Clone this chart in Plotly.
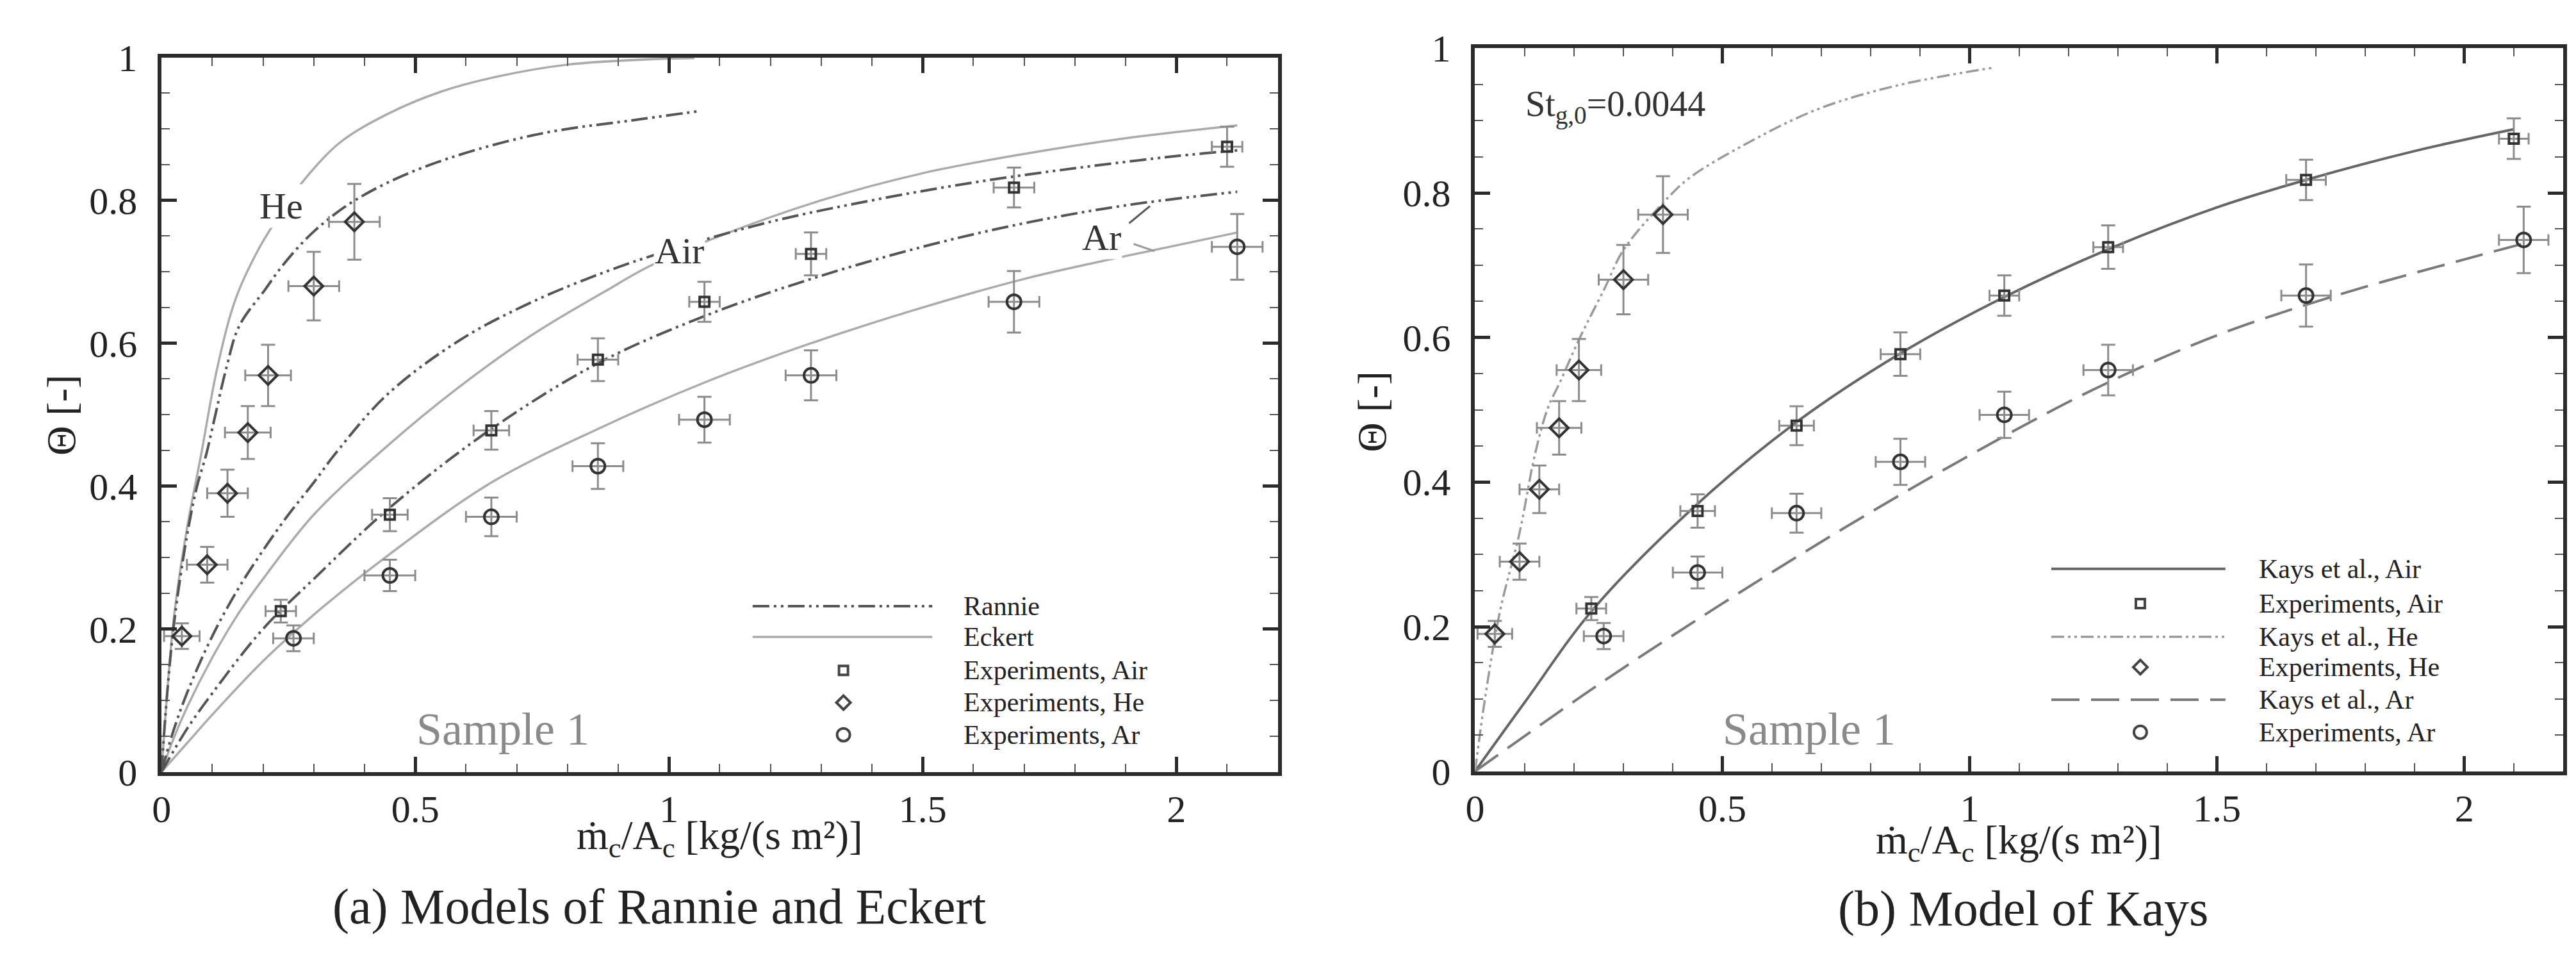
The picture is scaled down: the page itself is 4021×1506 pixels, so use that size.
import plotly.graph_objects as go

# ---------------- data ----------------
# experiments (same in both panels)
he_x = [0.04, 0.09, 0.13, 0.17, 0.21, 0.30, 0.38]
he_y = [0.19, 0.29, 0.39, 0.475, 0.555, 0.68, 0.77]
he_ex = [0.035, 0.04, 0.04, 0.045, 0.045, 0.05, 0.05]
he_ey = [0.018, 0.025, 0.033, 0.037, 0.043, 0.048, 0.053]

air_x = [0.235, 0.45, 0.65, 0.86, 1.07, 1.28, 1.68, 2.10]
air_y = [0.225, 0.36, 0.478, 0.577, 0.658, 0.725, 0.818, 0.875]
air_ex = [0.03, 0.035, 0.035, 0.04, 0.03, 0.03, 0.04, 0.03]
air_ey = [0.016, 0.023, 0.027, 0.03, 0.028, 0.03, 0.028, 0.028]

ar_x = [0.26, 0.45, 0.65, 0.86, 1.07, 1.28, 1.68, 2.12]
ar_y = [0.187, 0.275, 0.357, 0.428, 0.493, 0.555, 0.658, 0.735]
ar_ex = [0.04, 0.05, 0.05, 0.05, 0.05, 0.05, 0.05, 0.05]
ar_ey = [0.018, 0.022, 0.027, 0.032, 0.032, 0.035, 0.043, 0.046]

# panel (a): Rannie and Eckert models
rannie_he_x = [0, 0.01, 0.025, 0.05, 0.07, 0.088, 0.103, 0.128, 0.153, 0.204, 0.24, 0.298, 0.381, 0.515, 0.731, 0.948, 1.06]
rannie_he_y = [0, 0.10, 0.21, 0.33, 0.40, 0.444, 0.49, 0.566, 0.624, 0.675, 0.71, 0.755, 0.80, 0.846, 0.891, 0.914, 0.925]
eckert_he_x = [0, 0.01, 0.025, 0.05, 0.078, 0.11, 0.146, 0.19, 0.233, 0.277, 0.35, 0.443, 0.55, 0.66, 0.8, 0.98, 1.05]
eckert_he_y = [0, 0.10, 0.22, 0.34, 0.444, 0.566, 0.662, 0.73, 0.78, 0.825, 0.88, 0.92, 0.952, 0.973, 0.99, 0.998, 0.999]
rannie_air_x = [0, 0.02, 0.05, 0.1, 0.15, 0.2, 0.25, 0.3, 0.341, 0.443, 0.587, 0.731, 0.875, 1.0, 1.2, 1.4, 1.6, 1.8, 2.0, 2.12]
rannie_air_y = [0, 0.05, 0.11, 0.19, 0.255, 0.31, 0.36, 0.405, 0.444, 0.527, 0.604, 0.658, 0.70, 0.73, 0.77, 0.80, 0.825, 0.845, 0.862, 0.87]
eckert_air_x = [0, 0.02, 0.05, 0.1, 0.15, 0.2, 0.3, 0.443, 0.587, 0.731, 0.875, 0.962, 1.1, 1.3, 1.5, 1.7, 1.9, 2.12]
eckert_air_y = [0, 0.04, 0.09, 0.16, 0.22, 0.27, 0.36, 0.455, 0.539, 0.612, 0.673, 0.708, 0.75, 0.80, 0.838, 0.865, 0.887, 0.905]
rannie_ar_x = [0, 0.05, 0.1, 0.2, 0.3, 0.45, 0.65, 0.86, 1.07, 1.28, 1.5, 1.7, 1.9, 2.12]
rannie_ar_y = [0, 0.06, 0.11, 0.20, 0.27, 0.37, 0.48, 0.572, 0.638, 0.69, 0.735, 0.768, 0.793, 0.812]
eckert_ar_x = [0, 0.05, 0.1, 0.2, 0.3, 0.45, 0.65, 0.86, 1.07, 1.28, 1.5, 1.7, 1.9, 2.12]
eckert_ar_y = [0, 0.04, 0.08, 0.155, 0.22, 0.305, 0.405, 0.48, 0.545, 0.60, 0.65, 0.69, 0.722, 0.755]

# panel (b): Kays model
kays_air_x = [0, 0.1, 0.24, 0.45, 0.65, 0.86, 1.07, 1.28, 1.5, 1.68, 1.9, 2.1]
kays_air_y = [0, 0.095, 0.225, 0.37, 0.483, 0.578, 0.656, 0.722, 0.78, 0.818, 0.858, 0.888]
kays_he_x = [0, 0.02, 0.05, 0.09, 0.121, 0.147, 0.173, 0.21, 0.262, 0.30, 0.38, 0.432, 0.543, 0.69, 0.85, 1.046]
kays_he_y = [0, 0.10, 0.22, 0.33, 0.438, 0.502, 0.54, 0.597, 0.668, 0.721, 0.786, 0.82, 0.866, 0.915, 0.948, 0.973]
kays_ar_x = [0, 0.25, 0.5, 0.75, 1.0, 1.25, 1.5, 1.75, 2.0, 2.12]
kays_ar_y = [0, 0.12, 0.232, 0.338, 0.437, 0.528, 0.603, 0.66, 0.708, 0.73]

x_ticks = [0, 0.5, 1, 1.5, 2]
x_tick_text = ["0", "0.5", "1", "1.5", "2"]
y_ticks = [0, 0.2, 0.4, 0.6, 0.8, 1]
y_tick_text = ["0", "0.2", "0.4", "0.6", "0.8", "1"]

legend_a = ["Rannie", "Eckert", "Experiments, Air", "Experiments, He", "Experiments, Ar"]
legend_b = ["Kays et al., Air", "Experiments, Air", "Kays et al., He",
            "Experiments, He", "Kays et al., Ar", "Experiments, Ar"]

# ---------------- styles ----------------
FONT = "Liberation Serif"
TXT = "#222222"
RANNIE = dict(color="#555555", width=4, dash="26px,7px,4px,7px,4px,7px")
ECKERT = dict(color="#ababab", width=3.5)
KAYS_AIR = dict(color="#666666", width=4)
KAYS_HE = dict(color="#9a9a9a", width=3.5, dash="20px,6px,4px,6px,4px,6px")
KAYS_AR = dict(color="#7a7a7a", width=4, dash="44px,18px")

fig = go.Figure()


def curve(x, y, line, xa, ya, name):
    fig.add_trace(go.Scatter(x=x, y=y, mode="lines", line=dict(shape="spline", smoothing=1.0, **line),
                             xaxis=xa, yaxis=ya, name=name, showlegend=False))


def experiments(x, y, ex, ey, symbol, size, xa, ya, name):
    fig.add_trace(go.Scatter(
        x=x, y=y, mode="markers", xaxis=xa, yaxis=ya, name=name, showlegend=False,
        marker=dict(symbol=symbol, size=size, color="#333333", line=dict(color="#333333", width=4)),
        error_y=dict(type="data", array=ey, color="#8c8c8c", thickness=3, width=11),
        error_x=dict(type="data", array=ex, color="#8c8c8c", thickness=3, width=9)))


# panel (a)
curve(eckert_he_x, eckert_he_y, ECKERT, "x", "y", "Eckert He")
curve(eckert_air_x, eckert_air_y, ECKERT, "x", "y", "Eckert Air")
curve(eckert_ar_x, eckert_ar_y, ECKERT, "x", "y", "Eckert Ar")
curve(rannie_he_x, rannie_he_y, RANNIE, "x", "y", "Rannie He")
curve(rannie_air_x, rannie_air_y, RANNIE, "x", "y", "Rannie Air")
curve(rannie_ar_x, rannie_ar_y, RANNIE, "x", "y", "Rannie Ar")
experiments(air_x, air_y, air_ex, air_ey, "square-open", 15, "x", "y", "Experiments, Air")
experiments(he_x, he_y, he_ex, he_ey, "diamond-open", 22, "x", "y", "Experiments, He")
experiments(ar_x, ar_y, ar_ex, ar_ey, "circle-open", 22, "x", "y", "Experiments, Ar")

# panel (b)
curve(kays_air_x, kays_air_y, KAYS_AIR, "x2", "y2", "Kays et al., Air")
curve(kays_he_x, kays_he_y, KAYS_HE, "x2", "y2", "Kays et al., He")
curve(kays_ar_x, kays_ar_y, KAYS_AR, "x2", "y2", "Kays et al., Ar")
experiments(air_x, air_y, air_ex, air_ey, "square-open", 15, "x2", "y2", "Experiments, Air")
experiments(he_x, he_y, he_ex, he_ey, "diamond-open", 22, "x2", "y2", "Experiments, He")
experiments(ar_x, ar_y, ar_ex, ar_ey, "circle-open", 22, "x2", "y2", "Experiments, Ar")

W, H = 4021, 1506


def axis(domain, rng, tv, tt, minor_dtick, anchor, standoff):
    return dict(domain=domain, range=rng, anchor=anchor, showgrid=False, zeroline=False,
                showline=True, linecolor="#2b2b2b", linewidth=6, mirror="allticks",
                ticks="inside", ticklen=24, tickwidth=5, tickcolor="#2b2b2b",
                tickmode="array", tickvals=tv, ticktext=tt, ticklabelstandoff=standoff,
                tickfont=dict(family=FONT, size=60, color=TXT),
                minor=dict(ticks="inside", ticklen=13, tickwidth=2, tickcolor="#555555",
                           dtick=minor_dtick, tick0=0, showgrid=False))


fig.update_layout(
    width=W, height=H, margin=dict(l=0, r=0, t=0, b=0),
    paper_bgcolor="white", plot_bgcolor="white", showlegend=False,
    xaxis=axis([230 / W, 1979 / W], [0, 2.2], x_ticks, x_tick_text, 0.1, "y", 0),
    yaxis=axis([1 - 1218 / H, 1 - 52 / H], [0, 1], y_ticks, y_tick_text, 0.05, "x", 20),
    xaxis2=axis([2288 / W, 3993 / W], [0, 2.2], x_ticks, x_tick_text, 0.1, "y2", 0),
    yaxis2=axis([1 - 1217 / H, 1 - 37 / H], [0, 1], y_ticks, y_tick_text, 0.05, "x2", 20),
)

ann = []
shapes = []


def paper_text(text, px, py, size, angle=0, color=TXT, yanchor="middle"):
    ann.append(dict(text=text, xref="paper", yref="paper", x=px / W, y=1 - py / H,
                    xanchor="center", yanchor=yanchor, textangle=angle, showarrow=False,
                    font=dict(family=FONT, size=size, color=color)))


# axis titles and captions (x titles anchored at their top edge, below the tick labels)
xtitle = "ṁ<sub>c</sub>/A<sub>c</sub> [kg/(s m²)]"
paper_text(xtitle, 1104, 1282, 64, yanchor="top")
paper_text(xtitle, 3140, 1290, 64, yanchor="top")
paper_text("Θ [-]", 72, 636, 64, angle=-90)
paper_text("Θ [-]", 2126, 630, 64, angle=-90)
paper_text("(a) Models of Rannie and Eckert", 1010, 1438, 78)
paper_text("(b) Model of Kays", 3147, 1441, 78)

# in-plot labels
for xr, yr, xx, yy in [("x", "y", 0.673, 0.06), ("x2", "y2", 0.675, 0.058)]:
    ann.append(dict(text="Sample 1", xref=xr, yref=yr, x=xx, y=yy, showarrow=False,
                    xanchor="center", yanchor="middle",
                    font=dict(family=FONT, size=72, color="#8a8a8a")))
for t, xx, yy in [("He", 0.236, 0.792), ("Air", 1.02, 0.729), ("Ar", 1.853, 0.748)]:
    ann.append(dict(text=t, xref="x", yref="y", x=xx, y=yy, showarrow=False, bgcolor="white",
                    xanchor="center", yanchor="middle",
                    font=dict(family=FONT, size=58, color="#333333")))
shapes.append(dict(type="line", xref="x", yref="y", x0=1.907, y0=0.768, x1=1.948, y1=0.792,
                   line=dict(color="#555555", width=3)))
shapes.append(dict(type="line", xref="x", yref="y", x0=1.916, y0=0.739, x1=1.957, y1=0.729,
                   line=dict(color="#999999", width=3)))
ann.append(dict(text="St<sub>g,0</sub>=0.0044", xref="x2", yref="y2", x=0.099, y=0.919,
                xanchor="left", yanchor="middle", showarrow=False,
                font=dict(family=FONT, size=56, color="#333333")))


# custom legends (drawn in each panel's axis coordinates)
def legend_line(xr, yr, x0, x1, y, line):
    shapes.append(dict(type="line", xref=xr, yref=yr, x0=x0, x1=x1, y0=y, y1=y,
                       line=dict(color=line["color"], width=line["width"], dash=line.get("dash", "solid"))))


def legend_marker(xr, yr, x, y, kind):
    base = dict(xref=xr, yref=yr, xsizemode="pixel", ysizemode="pixel", xanchor=x, yanchor=y,
                line=dict(color="#444444", width=4), fillcolor="rgba(0,0,0,0)")
    if kind == "square":
        shapes.append(dict(type="rect", x0=-7, x1=7, y0=-7, y1=7, **base))
    elif kind == "circle":
        shapes.append(dict(type="circle", x0=-10, x1=10, y0=-10, y1=10, **base))
    else:
        shapes.append(dict(type="path", path="M -11 0 L 0 11 L 11 0 L 0 -11 Z", **base))


def legend_text(xr, yr, x, y, text):
    ann.append(dict(text=text, xref=xr, yref=yr, x=x, y=y, xanchor="left", yanchor="middle",
                    showarrow=False, borderpad=0, font=dict(family=FONT, size=42, color=TXT)))


ya = [0.232, 0.189, 0.142, 0.097, 0.052]
legend_line("x", "y", 1.165, 1.519, ya[0], RANNIE)
legend_line("x", "y", 1.165, 1.519, ya[1], ECKERT)
legend_marker("x", "y", 1.344, ya[2], "square")
legend_marker("x", "y", 1.344, ya[3], "diamond")
legend_marker("x", "y", 1.344, ya[4], "circle")
for t, yy in zip(legend_a, ya):
    legend_text("x", "y", 1.579, yy, t)

yb = [0.280, 0.232, 0.186, 0.144, 0.099, 0.054]
legend_line("x2", "y2", 1.165, 1.517, yb[0], KAYS_AIR)
legend_marker("x2", "y2", 1.345, yb[1], "square")
legend_line("x2", "y2", 1.165, 1.517, yb[2], KAYS_HE)
legend_marker("x2", "y2", 1.345, yb[3], "diamond")
legend_line("x2", "y2", 1.165, 1.517, yb[4], KAYS_AR)
legend_marker("x2", "y2", 1.345, yb[5], "circle")
for t, yy in zip(legend_b, yb):
    legend_text("x2", "y2", 1.584, yy, t)

fig.update_layout(annotations=ann, shapes=shapes)
fig.write_html("out.html")
